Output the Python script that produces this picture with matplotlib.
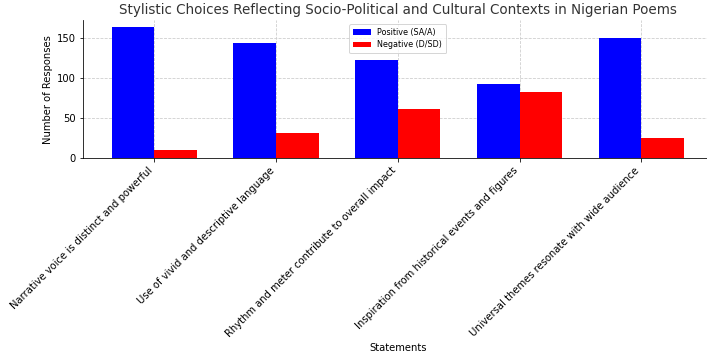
import matplotlib
matplotlib.use("Agg")
import matplotlib.pyplot as plt
import numpy as np

statements = [
    "Narrative voice is distinct and powerful",
    "Use of vivid and descriptive language",
    "Rhythm and meter contribute to overall impact",
    "Inspiration from historical events and figures",
    "Universal themes resonate with wide audience",
]
positive = [164, 143, 123, 92, 150]
negative = [10, 32, 62, 83, 25]

W, H = 707, 357
fig = plt.figure(figsize=(W/72, H/72), dpi=72)
ax = fig.add_axes([83/W, 1 - 158.3/H, 629.5/W, (158.3 - 20)/H])

x = np.arange(len(statements))
w = 0.35
ax.bar(x - w/2, positive, w, color="blue", label="Positive (SA/A)", zorder=3)
ax.bar(x + w/2, negative, w, color="red", label="Negative (D/SD)", zorder=3)

ax.set_xticks(x)
ax.set_xticklabels(statements, rotation=45, ha="right", fontsize=10)
ax.tick_params(axis="y", labelsize=10)
ax.set_ylabel("Number of Responses", fontsize=10)
ax.set_xlabel("Statements", fontsize=10)
ax.set_title("Stylistic Choices Reflecting Socio-Political and Cultural Contexts in Nigerian Poems",
             fontsize=13.5, color="#333333")
ax.grid(True, linestyle="--", color="#cccccc", linewidth=0.8, zorder=0)
ax.set_axisbelow(True)
for s in ["top", "right"]:
    ax.spines[s].set_visible(False)
ax.legend(loc="upper center", fontsize=8, frameon=True, labelspacing=0.4,
          handlelength=2.2, borderpad=0.5)

fig.savefig("out.png", dpi=72)
